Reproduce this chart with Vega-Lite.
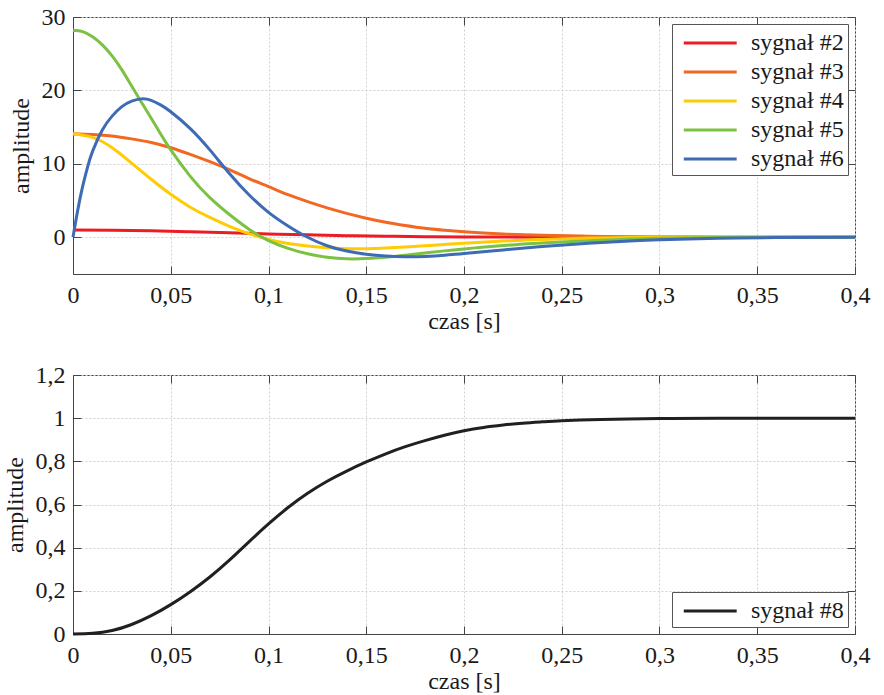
{
  "$schema": "https://vega.github.io/schema/vega-lite/v6.json",
  "padding": {"left": 2, "top": 4, "right": 5, "bottom": 2},
  "bounds": "flush",
  "spacing": 101,
  "datasets": {
    "top": [
      {"t": 0, "v": 1, "s": "sygnał #2"}, {"t": 0.02, "v": 0.97, "s": "sygnał #2"}, {"t": 0.04, "v": 0.88, "s": "sygnał #2"}, {"t": 0.06, "v": 0.75, "s": "sygnał #2"}, {"t": 0.08, "v": 0.61, "s": "sygnał #2"}, {"t": 0.1, "v": 0.46, "s": "sygnał #2"}, {"t": 0.12, "v": 0.33, "s": "sygnał #2"}, {"t": 0.14, "v": 0.22, "s": "sygnał #2"}, {"t": 0.16, "v": 0.14, "s": "sygnał #2"}, {"t": 0.18, "v": 0.08, "s": "sygnał #2"}, {"t": 0.2, "v": 0.045, "s": "sygnał #2"}, {"t": 0.24, "v": 0.012, "s": "sygnał #2"}, {"t": 0.28, "v": 0.002, "s": "sygnał #2"}, {"t": 0.32, "v": 0, "s": "sygnał #2"}, {"t": 0.4, "v": 0, "s": "sygnał #2"},
      {"t": 0, "v": 14.1, "s": "sygnał #3"}, {"t": 0.01, "v": 14.0, "s": "sygnał #3"}, {"t": 0.02, "v": 13.8, "s": "sygnał #3"}, {"t": 0.03, "v": 13.4, "s": "sygnał #3"}, {"t": 0.04, "v": 12.9, "s": "sygnał #3"}, {"t": 0.05, "v": 12.2, "s": "sygnał #3"}, {"t": 0.06, "v": 11.3, "s": "sygnał #3"}, {"t": 0.07, "v": 10.3, "s": "sygnał #3"}, {"t": 0.08, "v": 9.2, "s": "sygnał #3"}, {"t": 0.09, "v": 8.0, "s": "sygnał #3"}, {"t": 0.1, "v": 6.9, "s": "sygnał #3"}, {"t": 0.11, "v": 5.8, "s": "sygnał #3"}, {"t": 0.12, "v": 4.85, "s": "sygnał #3"}, {"t": 0.13, "v": 4.0, "s": "sygnał #3"}, {"t": 0.14, "v": 3.25, "s": "sygnał #3"}, {"t": 0.15, "v": 2.6, "s": "sygnał #3"}, {"t": 0.16, "v": 2.05, "s": "sygnał #3"}, {"t": 0.17, "v": 1.6, "s": "sygnał #3"}, {"t": 0.18, "v": 1.22, "s": "sygnał #3"}, {"t": 0.19, "v": 0.95, "s": "sygnał #3"}, {"t": 0.2, "v": 0.74, "s": "sygnał #3"}, {"t": 0.22, "v": 0.45, "s": "sygnał #3"}, {"t": 0.24, "v": 0.27, "s": "sygnał #3"}, {"t": 0.26, "v": 0.16, "s": "sygnał #3"}, {"t": 0.28, "v": 0.09, "s": "sygnał #3"}, {"t": 0.3, "v": 0.05, "s": "sygnał #3"}, {"t": 0.33, "v": 0.02, "s": "sygnał #3"}, {"t": 0.36, "v": 0.005, "s": "sygnał #3"}, {"t": 0.4, "v": 0, "s": "sygnał #3"},
      {"t": 0, "v": 14.1, "s": "sygnał #4"}, {"t": 0.01, "v": 13.6, "s": "sygnał #4"}, {"t": 0.02, "v": 12.2, "s": "sygnał #4"}, {"t": 0.03, "v": 10.1, "s": "sygnał #4"}, {"t": 0.04, "v": 7.9, "s": "sygnał #4"}, {"t": 0.05, "v": 5.85, "s": "sygnał #4"}, {"t": 0.06, "v": 4.1, "s": "sygnał #4"}, {"t": 0.07, "v": 2.7, "s": "sygnał #4"}, {"t": 0.08, "v": 1.5, "s": "sygnał #4"}, {"t": 0.09, "v": 0.5, "s": "sygnał #4"}, {"t": 0.1, "v": -0.3, "s": "sygnał #4"}, {"t": 0.11, "v": -0.85, "s": "sygnał #4"}, {"t": 0.12, "v": -1.2, "s": "sygnał #4"}, {"t": 0.13, "v": -1.43, "s": "sygnał #4"}, {"t": 0.14, "v": -1.55, "s": "sygnał #4"}, {"t": 0.15, "v": -1.55, "s": "sygnał #4"}, {"t": 0.16, "v": -1.46, "s": "sygnał #4"}, {"t": 0.17, "v": -1.32, "s": "sygnał #4"}, {"t": 0.18, "v": -1.15, "s": "sygnał #4"}, {"t": 0.19, "v": -0.97, "s": "sygnał #4"}, {"t": 0.2, "v": -0.8, "s": "sygnał #4"}, {"t": 0.22, "v": -0.52, "s": "sygnał #4"}, {"t": 0.24, "v": -0.29, "s": "sygnał #4"}, {"t": 0.26, "v": -0.13, "s": "sygnał #4"}, {"t": 0.28, "v": -0.05, "s": "sygnał #4"}, {"t": 0.3, "v": -0.01, "s": "sygnał #4"}, {"t": 0.34, "v": 0, "s": "sygnał #4"}, {"t": 0.4, "v": 0, "s": "sygnał #4"},
      {"t": 0, "v": 28.2, "s": "sygnał #5"}, {"t": 0.005, "v": 28.0, "s": "sygnał #5"}, {"t": 0.01, "v": 27.3, "s": "sygnał #5"}, {"t": 0.015, "v": 26.2, "s": "sygnał #5"}, {"t": 0.02, "v": 24.7, "s": "sygnał #5"}, {"t": 0.025, "v": 22.8, "s": "sygnał #5"}, {"t": 0.03, "v": 20.6, "s": "sygnał #5"}, {"t": 0.035, "v": 18.4, "s": "sygnał #5"}, {"t": 0.04, "v": 16.2, "s": "sygnał #5"}, {"t": 0.045, "v": 14.0, "s": "sygnał #5"}, {"t": 0.05, "v": 11.9, "s": "sygnał #5"}, {"t": 0.06, "v": 8.3, "s": "sygnał #5"}, {"t": 0.07, "v": 5.4, "s": "sygnał #5"}, {"t": 0.08, "v": 3.1, "s": "sygnał #5"}, {"t": 0.09, "v": 1.1, "s": "sygnał #5"}, {"t": 0.1, "v": -0.45, "s": "sygnał #5"}, {"t": 0.11, "v": -1.5, "s": "sygnał #5"}, {"t": 0.12, "v": -2.25, "s": "sygnał #5"}, {"t": 0.13, "v": -2.72, "s": "sygnał #5"}, {"t": 0.14, "v": -2.93, "s": "sygnał #5"}, {"t": 0.15, "v": -2.9, "s": "sygnał #5"}, {"t": 0.16, "v": -2.72, "s": "sygnał #5"}, {"t": 0.17, "v": -2.45, "s": "sygnał #5"}, {"t": 0.18, "v": -2.15, "s": "sygnał #5"}, {"t": 0.19, "v": -1.85, "s": "sygnał #5"}, {"t": 0.2, "v": -1.58, "s": "sygnał #5"}, {"t": 0.22, "v": -1.12, "s": "sygnał #5"}, {"t": 0.24, "v": -0.78, "s": "sygnał #5"}, {"t": 0.26, "v": -0.5, "s": "sygnał #5"}, {"t": 0.28, "v": -0.29, "s": "sygnał #5"}, {"t": 0.3, "v": -0.14, "s": "sygnał #5"}, {"t": 0.33, "v": -0.04, "s": "sygnał #5"}, {"t": 0.36, "v": -0.01, "s": "sygnał #5"}, {"t": 0.4, "v": 0, "s": "sygnał #5"},
      {"t": 0, "v": 0, "s": "sygnał #6"}, {"t": 0.0025, "v": 3.8, "s": "sygnał #6"}, {"t": 0.005, "v": 7.0, "s": "sygnał #6"}, {"t": 0.0075, "v": 9.6, "s": "sygnał #6"}, {"t": 0.01, "v": 11.7, "s": "sygnał #6"}, {"t": 0.015, "v": 14.6, "s": "sygnał #6"}, {"t": 0.02, "v": 16.5, "s": "sygnał #6"}, {"t": 0.025, "v": 17.8, "s": "sygnał #6"}, {"t": 0.03, "v": 18.55, "s": "sygnał #6"}, {"t": 0.035, "v": 18.85, "s": "sygnał #6"}, {"t": 0.04, "v": 18.65, "s": "sygnał #6"}, {"t": 0.045, "v": 18.0, "s": "sygnał #6"}, {"t": 0.05, "v": 17.1, "s": "sygnał #6"}, {"t": 0.06, "v": 14.8, "s": "sygnał #6"}, {"t": 0.07, "v": 11.9, "s": "sygnał #6"}, {"t": 0.08, "v": 8.7, "s": "sygnał #6"}, {"t": 0.09, "v": 5.8, "s": "sygnał #6"}, {"t": 0.1, "v": 3.4, "s": "sygnał #6"}, {"t": 0.11, "v": 1.55, "s": "sygnał #6"}, {"t": 0.12, "v": 0.0, "s": "sygnał #6"}, {"t": 0.13, "v": -1.15, "s": "sygnał #6"}, {"t": 0.14, "v": -1.88, "s": "sygnał #6"}, {"t": 0.15, "v": -2.32, "s": "sygnał #6"}, {"t": 0.16, "v": -2.56, "s": "sygnał #6"}, {"t": 0.17, "v": -2.64, "s": "sygnał #6"}, {"t": 0.18, "v": -2.6, "s": "sygnał #6"}, {"t": 0.19, "v": -2.45, "s": "sygnał #6"}, {"t": 0.2, "v": -2.2, "s": "sygnał #6"}, {"t": 0.22, "v": -1.72, "s": "sygnał #6"}, {"t": 0.24, "v": -1.26, "s": "sygnał #6"}, {"t": 0.26, "v": -0.87, "s": "sygnał #6"}, {"t": 0.28, "v": -0.56, "s": "sygnał #6"}, {"t": 0.3, "v": -0.34, "s": "sygnał #6"}, {"t": 0.33, "v": -0.13, "s": "sygnał #6"}, {"t": 0.36, "v": -0.04, "s": "sygnał #6"}, {"t": 0.4, "v": 0, "s": "sygnał #6"}
    ],
    "bottom": [
      {"t": 0, "v": 0, "s": "sygnał #8"}, {"t": 0.01, "v": 0.003, "s": "sygnał #8"}, {"t": 0.02, "v": 0.016, "s": "sygnał #8"}, {"t": 0.03, "v": 0.044, "s": "sygnał #8"}, {"t": 0.04, "v": 0.085, "s": "sygnał #8"}, {"t": 0.05, "v": 0.136, "s": "sygnał #8"}, {"t": 0.06, "v": 0.196, "s": "sygnał #8"}, {"t": 0.07, "v": 0.264, "s": "sygnał #8"}, {"t": 0.08, "v": 0.342, "s": "sygnał #8"}, {"t": 0.09, "v": 0.427, "s": "sygnał #8"}, {"t": 0.1, "v": 0.51, "s": "sygnał #8"}, {"t": 0.11, "v": 0.586, "s": "sygnał #8"}, {"t": 0.12, "v": 0.652, "s": "sygnał #8"}, {"t": 0.13, "v": 0.708, "s": "sygnał #8"}, {"t": 0.14, "v": 0.755, "s": "sygnał #8"}, {"t": 0.15, "v": 0.797, "s": "sygnał #8"}, {"t": 0.16, "v": 0.835, "s": "sygnał #8"}, {"t": 0.17, "v": 0.868, "s": "sygnał #8"}, {"t": 0.18, "v": 0.896, "s": "sygnał #8"}, {"t": 0.19, "v": 0.921, "s": "sygnał #8"}, {"t": 0.2, "v": 0.942, "s": "sygnał #8"}, {"t": 0.21, "v": 0.957, "s": "sygnał #8"}, {"t": 0.22, "v": 0.968, "s": "sygnał #8"}, {"t": 0.23, "v": 0.977, "s": "sygnał #8"}, {"t": 0.24, "v": 0.983, "s": "sygnał #8"}, {"t": 0.25, "v": 0.988, "s": "sygnał #8"}, {"t": 0.27, "v": 0.994, "s": "sygnał #8"}, {"t": 0.3, "v": 0.998, "s": "sygnał #8"}, {"t": 0.33, "v": 1.0, "s": "sygnał #8"}, {"t": 0.4, "v": 1.0, "s": "sygnał #8"}
    ]
  },
  "vconcat": [
    {
      "width": 782,
      "height": 257,
      "data": {"name": "top"},
      "layer": [
        {
          "mark": {"type": "line", "strokeWidth": 3, "interpolate": "natural"},
          "encoding": {
            "x": {"field": "t", "type": "quantitative", "scale": {"domain": [0, 0.4], "nice": false, "zero": false},
                  "axis": {"orient": "bottom", "title": "czas [s]", "values": [0, 0.05, 0.1, 0.15, 0.2, 0.25, 0.3, 0.35, 0.4], "labelExpr": "replace(format(datum.value, '~g'), '.', ',')"}},
            "y": {"field": "v", "type": "quantitative", "scale": {"domain": [-5, 30], "nice": false, "zero": false},
                  "axis": {"orient": "left", "title": "amplitude", "values": [0, 10, 20, 30], "labelExpr": "replace(format(datum.value, '~g'), '.', ',')"}},
            "color": {"field": "s", "type": "nominal",
                      "scale": {"domain": ["sygnał #2", "sygnał #3", "sygnał #4", "sygnał #5", "sygnał #6"], "range": ["#ec1c24", "#f26822", "#ffcb05", "#7cc242", "#3d6bb4"]},
                      "legend": {"orient": "top-right", "title": null}}
          }
        },
        {
          "mark": {"type": "point", "opacity": 0},
          "encoding": {
            "x": {"field": "t", "type": "quantitative", "axis": {"orient": "top", "title": null, "labels": false, "domain": false, "grid": false, "values": [0, 0.05, 0.1, 0.15, 0.2, 0.25, 0.3, 0.35, 0.4]}},
            "y": {"field": "v", "type": "quantitative", "axis": {"orient": "right", "title": null, "labels": false, "domain": false, "grid": false, "values": [0, 10, 20, 30]}}
          }
        }
      ],
      "resolve": {"axis": {"x": "independent", "y": "independent"}}
    },
    {
      "width": 782,
      "height": 259,
      "data": {"name": "bottom"},
      "layer": [
        {
          "mark": {"type": "line", "strokeWidth": 3, "interpolate": "natural"},
          "encoding": {
            "x": {"field": "t", "type": "quantitative", "scale": {"domain": [0, 0.4], "nice": false, "zero": false},
                  "axis": {"orient": "bottom", "title": "czas [s]", "values": [0, 0.05, 0.1, 0.15, 0.2, 0.25, 0.3, 0.35, 0.4], "labelExpr": "replace(format(datum.value, '~g'), '.', ',')"}},
            "y": {"field": "v", "type": "quantitative", "scale": {"domain": [0, 1.2], "nice": false, "zero": false},
                  "axis": {"orient": "left", "title": "amplitude", "values": [0, 0.2, 0.4, 0.6, 0.8, 1, 1.2], "labelExpr": "replace(format(datum.value, '~g'), '.', ',')"}},
            "color": {"field": "s", "type": "nominal",
                      "scale": {"domain": ["sygnał #8"], "range": ["#231f20"]},
                      "legend": {"orient": "bottom-right", "title": null}}
          }
        },
        {
          "mark": {"type": "point", "opacity": 0},
          "encoding": {
            "x": {"field": "t", "type": "quantitative", "axis": {"orient": "top", "title": null, "labels": false, "domain": false, "grid": false, "values": [0, 0.05, 0.1, 0.15, 0.2, 0.25, 0.3, 0.35, 0.4]}},
            "y": {"field": "v", "type": "quantitative", "axis": {"orient": "right", "title": null, "labels": false, "domain": false, "grid": false, "values": [0, 0.2, 0.4, 0.6, 0.8, 1, 1.2]}}
          }
        }
      ],
      "resolve": {"axis": {"x": "independent", "y": "independent"}}
    }
  ],
  "resolve": {"scale": {"color": "independent"}, "legend": {"color": "independent"}},
  "config": {
    "font": "Liberation Serif",
    "background": "white",
    "view": {"stroke": "#444444", "strokeWidth": 1},
    "axis": {
      "labelFont": "Liberation Serif", "labelFontSize": 24, "labelColor": "#1a1a1a",
      "titleFont": "Liberation Serif", "titleFontSize": 24, "titleFontWeight": "normal", "titleColor": "#1a1a1a",
      "domainColor": "#444444", "tickColor": "#444444", "tickSize": -8, "tickWidth": 1,
      "titlePadding": 2,
      "gridColor": "#d0d0d0", "gridDash": [2, 2], "gridWidth": 1,
      "labelFlush": false, "labelOverlap": false
    },
    "axisX": {"labelPadding": 17},
    "axisY": {"labelPadding": 16},
    "axisLeft": {"titlePadding": 8},
    "legend": {
      "labelFont": "Liberation Serif", "labelFontSize": 24, "labelColor": "#1a1a1a",
      "symbolType": "M-1,0H3", "symbolSize": 700, "symbolStrokeWidth": 3,
      "symbolOffset": 6, "labelOffset": 39, "rowPadding": 2, "padding": 4,
      "strokeColor": "#555555", "fillColor": "white", "offset": 7
    }
  }
}
